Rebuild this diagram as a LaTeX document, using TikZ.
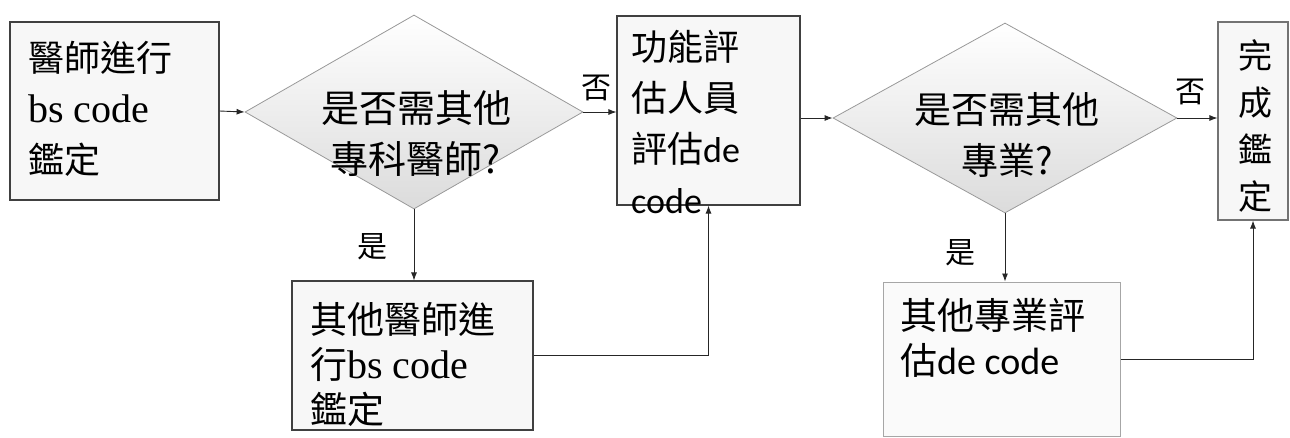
\documentclass[tikz,border=0pt]{standalone}
\usepackage{fontspec}
\newfontfamily\cjk{Noto Sans CJK TC}
\newfontfamily\ser{Liberation Serif}
\newfontfamily\crl{Carlito}
\usetikzlibrary{shapes.geometric,arrows.meta}
\tikzset{
  box/.style={draw=black!75, line width=1.1pt, fill=black!3, inner sep=0pt},
  lightbox/.style={draw=black!35, line width=1pt, fill=black!2, inner sep=0pt},
  dia/.style={diamond, draw=black!40, line width=0.8pt, top color=white, bottom color=black!14, inner sep=0pt},
  txt/.style={inner sep=0pt, anchor=north west, align=left, font=\cjk\fontsize{36}{51}\selectfont},
  lab/.style={inner sep=0pt, font=\cjk\fontsize{30}{34}\selectfont},
  arr/.style={draw=black!85, line width=0.9pt, -{Latex[length=8pt,width=6pt]}}
}
\begin{document}
\begin{tikzpicture}[x=1pt,y=-1pt]
\useasboundingbox (0,0) rectangle (1290,437);
% shapes
\node[box, minimum width=209, minimum height=178] (b1) at (114.5,111) {};
\node[dia, minimum width=338, minimum height=194] (d1) at (414,112) {};
\node[box, minimum width=183, minimum height=189] (b2) at (708.5,110.5) {};
\node[dia, minimum width=344, minimum height=190] (d2) at (1005,118) {};
\node[box, draw=black!55, minimum width=70, minimum height=198] (b3) at (1253,121) {};
\node[box, minimum width=241, minimum height=149] (b4) at (412.5,355.5) {};
\node[lightbox, minimum width=237, minimum height=154] (b5) at (1001.5,359) {};
% texts
\node[txt] (t1) at (28,41) {醫師進行\\{\ser\fontsize{40}{51}\selectfont bs code}\\鑑定};
\node[txt, align=center, anchor=north, font=\cjk\fontsize{38}{51}\selectfont] (t2) at (416,90) {是否需其他\\專科醫師?};
\node[txt] (t3) at (631,30) {功能評\\估人員\\評估{\crl\fontsize{36}{51}\selectfont de}\\{\crl\fontsize{36}{51}\selectfont code}};
\node[txt, align=center, anchor=north, font=\cjk\fontsize{37}{51}\selectfont] (t4) at (1007,92) {是否需其他\\專業?};
\node[txt, align=center, anchor=north, font=\cjk\fontsize{34}{47}\selectfont] (t5) at (1255,39) {完\\成\\鑑\\定};
\node[txt, font=\cjk\fontsize{37}{45}\selectfont] (t6) at (310,302) {其他醫師進\\行{\ser\fontsize{40}{45}\selectfont bs code}\\鑑定};
\node[txt, font=\cjk\fontsize{37}{45}\selectfont] (t7) at (900,298) {其他專業評\\估{\crl\fontsize{38}{45}\selectfont de code}};
% labels
\node[lab] (n1) at (596,88) {否};
\node[lab] (n2) at (1190,92) {否};
\node[lab] (y1) at (372,247) {是};
\node[lab] (y2) at (960,253) {是};
% connectors
\draw[arr] (b1.east) -- (d1.west);
\draw[arr] (d1.east) -- (d1.east -| b2.west);
\draw[arr] (d1.south) -- (d1.south |- b4.north);
\draw[arr] (b4.east) -| (b2.south);
\draw[arr] (b2.east |- d2.west) -- (d2.west);
\draw[arr] (d2.east) -- (d2.east -| b3.west);
\draw[arr] (d2.south) -- (d2.south |- b5.north);
\draw[arr] (b5.east) -| (b3.south);
\end{tikzpicture}
\end{document}
